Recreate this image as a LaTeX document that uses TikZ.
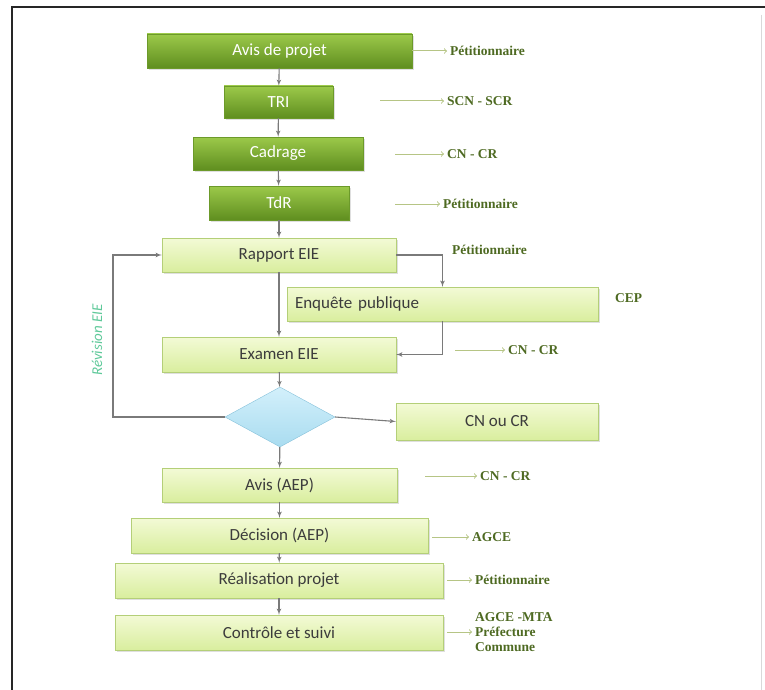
\documentclass[tikz,border=0pt]{standalone}
\usepackage{fontspec}
\setmainfont{Liberation Serif}
\newfontfamily\boxfont{Carlito}
\usetikzlibrary{shapes,arrows,calc,positioning,shadows}

\definecolor{dkgreenT}{HTML}{9CC94A}
\definecolor{dkgreenB}{HTML}{5F8E1F}
\definecolor{dkedge}{HTML}{6C9A2A}
\definecolor{ltgreenT}{HTML}{F3FAD6}
\definecolor{ltgreenB}{HTML}{D9EE9E}
\definecolor{ltedge}{HTML}{B4CF78}
\definecolor{boxtext}{HTML}{3C3C3C}
\definecolor{blueT}{HTML}{D3F0FB}
\definecolor{blueB}{HTML}{A9DCF0}
\definecolor{blueedge}{HTML}{85C1DA}
\definecolor{linegray}{HTML}{7A7A7A}
\definecolor{labelgreen}{HTML}{4E6A22}
\definecolor{arrowgreen}{HTML}{B6C585}
\definecolor{revgreen}{HTML}{5FC99A}

\tikzset{darkbox/.style={draw=dkedge, top color=dkgreenT, bottom color=dkgreenB, text=white, inner sep=0pt, font=\boxfont\fontsize{17}{17}\selectfont, drop shadow={opacity=0.25, shadow xshift=1.5pt, shadow yshift=-2pt}}}
\tikzset{litebox/.style={darkbox, draw=ltedge, top color=ltgreenT, bottom color=ltgreenB, text=boxtext}}
\tikzset{choice/.style={diamond, draw=blueedge, top color=blueT, bottom color=blueB, inner sep=0pt, minimum width=110pt, minimum height=60pt}}
\tikzset{line/.style={draw=linegray, line width=1.1pt, -latex'}}
\tikzset{tag/.style={draw=arrowgreen, line width=1pt, ->, shorten >=3pt}}
\tikzset{who/.style={text=labelgreen, anchor=west, inner sep=0pt, font=\bfseries\fontsize{13.5}{15}\selectfont}}

\begin{document}
\begin{tikzpicture}[x=1pt, y=-1pt]
		\useasboundingbox (0,0) rectangle (765,690);
		% frame
		\draw [line width=2.5pt, black!85] (12,690) -- (12,7) -- (765,7);
		\draw [black!15] (761,15) -- (761,690);

		% steps
		\node [darkbox, minimum width=265pt, minimum height=34pt]	(avis)		at (279.5,51)	{Avis de projet};
		\node [darkbox, minimum width=109pt, minimum height=32pt]	(tri)		at (278.5,102)	{TRI};
		\node [darkbox, minimum width=170pt, minimum height=33pt]	(cadrage)	at (278,153.5)	{Cadrage};
		\node [darkbox, minimum width=140pt, minimum height=34pt]	(tdr)		at (279,203)	{TdR};
		\node [litebox, minimum width=234pt, minimum height=34pt]	(rapport)	at (279,255)	{Rapport EIE};
		\node [litebox, minimum width=311pt, minimum height=34pt, text width=295pt, align=left]	(enquete)	at (442.5,304)	{Enquête publique};
		\node [litebox, minimum width=234pt, minimum height=35pt]	(examen)	at (279,354.5)	{Examen EIE};
		\node [choice]												(choix)		at (280,417)	{};
		\node [litebox, minimum width=202pt, minimum height=37pt]	(cncr)		at (497,421.5)	{CN ou CR};
		\node [litebox, minimum width=235pt, minimum height=34pt]	(avisaep)	at (279.5,485)	{Avis (AEP)};
		\node [litebox, minimum width=297pt, minimum height=35pt]	(decision)	at (279.5,535.5) {Décision (AEP)};
		\node [litebox, minimum width=328pt, minimum height=35pt]	(realis)	at (279,580.5)	{Réalisation projet};
		\node [litebox, minimum width=328pt, minimum height=35pt]	(controle)	at (279,632.5)	{Contrôle et suivi};

		% actors
		\node [who] (pet1)	at (450,51)		{Pétitionnaire};
		\node [who] (scn)	at (447,101)	{SCN - SCR};
		\node [who] (cn1)	at (447,154)	{CN - CR};
		\node [who] (pet2)	at (443,204)	{Pétitionnaire};
		\node [who] (pet3)	at (452,250)	{Pétitionnaire};
		\node [who] (cep)	at (615,298)	{CEP};
		\node [who] (cn2)	at (508,350)	{CN - CR};
		\node [who] (cn3)	at (480,476)	{CN - CR};
		\node [who] (agce)	at (472,537)	{AGCE};
		\node [who] (pet4)	at (475,580)	{Pétitionnaire};
		\node [who, align=left] (suivi) at (475,632) {AGCE -MTA\\Préfecture\\Commune};

		\coordinate (t1) at (380,101);
		\coordinate (t2) at (395,154);
		\coordinate (t3) at (395,204);
		\coordinate (t4) at (455,350);
		\coordinate (t5) at (425,476);
		\coordinate (t6) at (432,537);
		\coordinate (t7) at (447,580);
		\coordinate (t8) at (447,632);
		\coordinate (rev) at (113,417);

		\path [tag] (avis.east) -- (pet1.west);
		\path [tag] (t1) -- (scn.west);
		\path [tag] (t2) -- (cn1.west);
		\path [tag] (t3) -- (pet2.west);
		\path [tag] (t4) -- (cn2.west);
		\path [tag] (t5) -- (cn3.west);
		\path [tag] (t6) -- (agce.west);
		\path [tag] (t7) -- (pet4.west);
		\path [tag] (t8) -- (suivi.west);

		% flow
		\path [line] (avis) -- (tri);
		\path [line] (tri) -- (cadrage);
		\path [line] (cadrage) -- (tdr);
		\path [line] (tdr) -- (rapport);
		\path [line] (rapport) -- (examen);
		\path [line] (rapport.east) -| (enquete.north);
		\path [line] (enquete.south) |- (examen.east);
		\path [line] (examen) -- (choix);
		\path [line] (choix.west) -- (rev) |- (rapport.west);
		\path [line] (choix.east) -- (cncr.west);
		\path [line] (choix) -- (avisaep);
		\path [line] (avisaep) -- (decision);
		\path [line] (decision) -- (realis);
		\path [line] (realis) -- (controle);

		\node [rotate=90, text=revgreen, font=\boxfont\itshape\fontsize{15}{15}\selectfont] (revlbl) at (97,340) {Révision EIE};
	\end{tikzpicture}
\end{document}
